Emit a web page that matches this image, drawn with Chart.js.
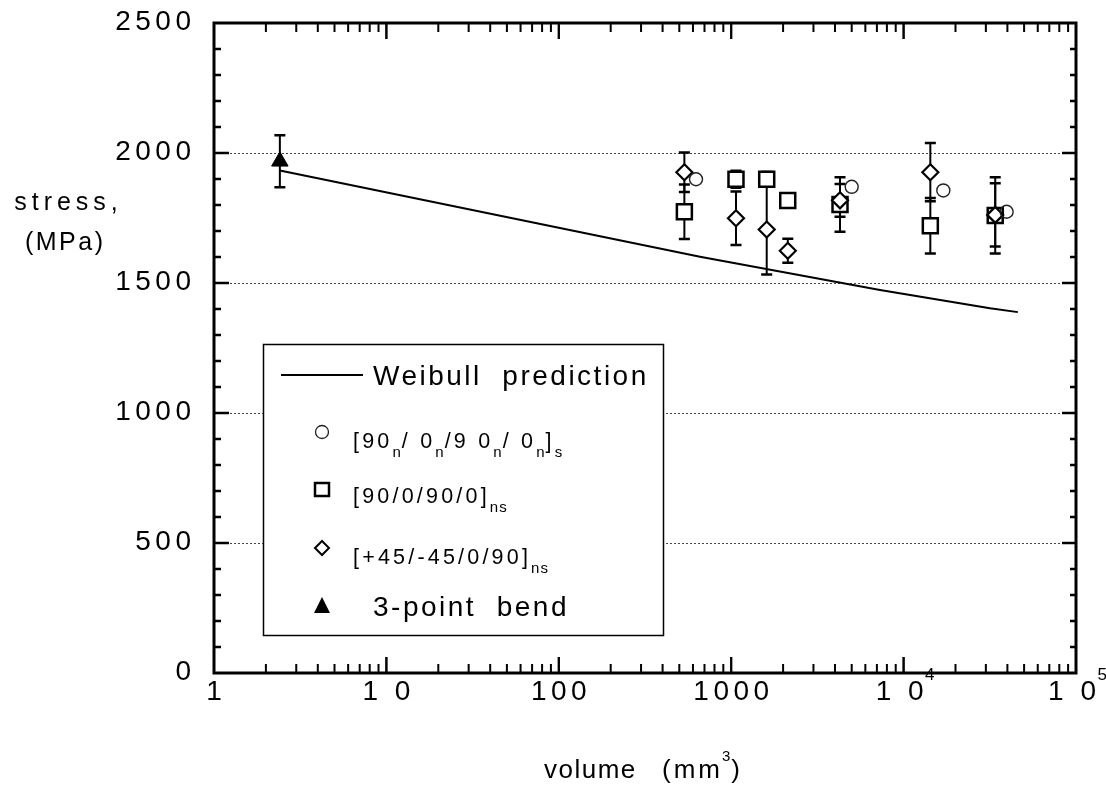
<!DOCTYPE html>
<html><head><meta charset="utf-8">
<script src="https://cdn.jsdelivr.net/npm/chart.js@4/dist/chart.umd.min.js"></script>
<style>html,body{margin:0;padding:0;background:#fff}#wrap{width:1106px;height:789px}</style>
</head><body><div id="wrap"><canvas id="c" width="1106" height="789"></canvas></div>
<script>
// ---- data ----
const circleVol = [625, 5000, 17000, 39600];
const circleStress = [1899, 1870, 1856, 1774];
const squareVol = [535, 1066, 1607, 2128, 4277, 14290, 34000];
const squareStress = [1774, 1899, 1899, 1817, 1802, 1720, 1760];
const squareErr = [105, 33, 28, 0, 105, 107, 147];
const diamondVol = [535, 1066, 1607, 2130, 4277, 14290, 34000];
const diamondStress = [1926, 1749, 1706, 1624, 1818, 1926, 1762];
const diamondErr = [76, 103, 173, 46, 63, 112, 122];
const bendVol = [2.41];
const bendStress = [1968];
const bendErr = [100];
const weibullVol = [2.41, 659, 7300, 31700, 46000];
const weibullStress = [1933, 1601, 1473, 1403, 1388];
const yTickValues = [0, 500, 1000, 1500, 2000, 2500];
const yTickLabels = ['0', '500', '1000', '1500', '2000', '2500'];
const yGridValues = [500, 1000, 1500, 2000];
const xTickValues = [1, 10, 100, 1000, 10000, 100000];
const xTickLabels = ['1', '1 0', '100', '1000', '1 0', '1 0'];
const xTickExponents = ['', '', '', '', '4', '5'];
const legendEntries = [
  {marker: 'line', parts: [['Weibull  prediction', 'big']]},
  {marker: 'circle', parts: [['[90',''],['n','sub'],['/ 0',''],['n','sub'],['/9 0',''],['n','sub'],['/ 0',''],['n','sub'],[']',''],['s','sub']]},
  {marker: 'rect', parts: [['[90/0/90/0]',''],['ns','sub']]},
  {marker: 'rectRot', parts: [['[+45/-45/0/90]',''],['ns','sub']]},
  {marker: 'triangle', parts: [['3-point  bend', 'big']]}
];
const yTitleLines = ['stress,', '(MPa)'];
const xTitleParts = ['volume', '(mm', '3', ')'];

const pts = (xs, ys) => xs.map((v, i) => ({x: v, y: ys[i]}));
const FONT = '"Liberation Sans", Arial, sans-serif';

function drawText(ctx, s, x, y, size, sp, align) {
  ctx.font = size + 'px ' + FONT;
  ctx.letterSpacing = sp + 'px';
  ctx.textAlign = 'left';
  ctx.textBaseline = 'alphabetic';
  let w = ctx.measureText(s).width - sp;
  let x0 = x;
  if (align === 'right') x0 = x - w;
  else if (align === 'center') x0 = x - w / 2;
  ctx.fillText(s, x0, y);
  return x0 + w + sp;
}

const custom = {
  id: 'custom',
  beforeDatasetsDraw(chart) {
    const ctx = chart.ctx, xs = chart.scales.x, ys = chart.scales.y, a = chart.chartArea;
    ctx.save();
    ctx.strokeStyle = '#444';
    ctx.lineWidth = 1;
    ctx.setLineDash([2, 2]);
    yGridValues.forEach(v => {
      const py = Math.round(ys.getPixelForValue(v)) + 0.5;
      ctx.beginPath(); ctx.moveTo(a.left, py); ctx.lineTo(a.right, py); ctx.stroke();
    });
    ctx.setLineDash([]);
    ctx.strokeStyle = '#000';
    const eb = (vols, vals, errs) => vols.forEach((v, i) => {
      if (!errs[i]) return;
      const px = xs.getPixelForValue(v);
      const t = ys.getPixelForValue(vals[i] + errs[i]);
      const b = ys.getPixelForValue(vals[i] - errs[i]);
      ctx.lineWidth = 2;
      ctx.beginPath(); ctx.moveTo(px, t); ctx.lineTo(px, b); ctx.stroke();
      ctx.lineWidth = 2.5;
      ctx.beginPath(); ctx.moveTo(px - 5.5, t); ctx.lineTo(px + 5.5, t);
      ctx.moveTo(px - 5.5, b); ctx.lineTo(px + 5.5, b); ctx.stroke();
    });
    eb(squareVol, squareStress, squareErr);
    eb(diamondVol, diamondStress, diamondErr);
    eb(bendVol, bendStress, bendErr);
    ctx.restore();
  },
  afterDatasetsDraw(chart) {
    const ctx = chart.ctx, xs = chart.scales.x, ys = chart.scales.y, a = chart.chartArea;
    ctx.save();
    ctx.fillStyle = '#000';
    ctx.strokeStyle = '#000';
    ctx.lineWidth = 3;
    ctx.strokeRect(a.left, a.top, a.right - a.left, a.bottom - a.top);
    ctx.lineWidth = 2.5;
    for (let v = 100; v < 2500; v += 100) {
      const py = ys.getPixelForValue(v);
      const major = v % 500 === 0;
      ctx.beginPath();
      ctx.moveTo(a.left, py); ctx.lineTo(a.left + (major ? 15 : 7), py);
      ctx.moveTo(a.right, py); ctx.lineTo(a.right - (major ? 14 : 6), py);
      ctx.stroke();
    }
    for (let k = 0; k < 5; k++) {
      for (let m = 1; m <= 10; m++) {
        if (m === 1 && k === 0) continue;
        const v = m * Math.pow(10, k);
        const px = xs.getPixelForValue(v);
        const major = (m === 1 || m === 10);
        const L = major ? 16 : 9;
        ctx.lineWidth = 2;
        ctx.beginPath();
        ctx.moveTo(px, a.top); ctx.lineTo(px, a.top + L);
        ctx.moveTo(px, a.bottom); ctx.lineTo(px, a.bottom - L);
        ctx.stroke();
      }
    }
    yTickValues.forEach((v, i) => {
      const py = ys.getPixelForValue(v);
      drawText(ctx, yTickLabels[i], 191, py + 7, 28, 4.5, 'right');
    });
    xTickValues.forEach((v, i) => {
      const px = xs.getPixelForValue(v);
      const by = 700;
      if (xTickExponents[i]) {
        const end = drawText(ctx, xTickLabels[i], px - 4, by, 28, 4.5, 'center');
        drawText(ctx, xTickExponents[i], end - 3, by - 20, 17, 0, 'left');
      } else {
        drawText(ctx, xTickLabels[i], px, by, 28, 4.5, 'center');
      }
    });
    drawText(ctx, yTitleLines[0], 66, 210, 25, 5, 'center');
    drawText(ctx, yTitleLines[1], 64, 250, 25, 2.5, 'center');
    drawText(ctx, xTitleParts[0], 544, 778, 26, 1.5, 'left');
    let xe = drawText(ctx, xTitleParts[1], 662, 778, 26, 3, 'left');
    xe = drawText(ctx, xTitleParts[2], xe - 1, 761, 15, 0, 'left');
    drawText(ctx, xTitleParts[3], xe + 1, 778, 26, 0, 'left');
    // legend box
    const L = {x: 263, y: 344, w: 400, h: 291};
    ctx.fillStyle = '#fff';
    ctx.fillRect(L.x, L.y, L.w, L.h);
    ctx.lineWidth = 1.5;
    ctx.strokeStyle = '#000';
    ctx.strokeRect(L.x + 0.5, L.y + 0.5, L.w, L.h);
    ctx.fillStyle = '#000';
    const rowY = [375, 433, 490, 548, 606];
    const baseY = [385, 448, 503, 564, 616];
    legendEntries.forEach((e, r) => {
      const my = rowY[r], mx = 322;
      ctx.lineWidth = 2;
      ctx.strokeStyle = '#000';
      if (e.marker === 'line') {
        ctx.beginPath(); ctx.moveTo(281, my); ctx.lineTo(363, my); ctx.stroke();
      } else if (e.marker === 'circle') {
        ctx.lineWidth = 1.3; ctx.strokeStyle = '#222';
        ctx.beginPath(); ctx.arc(mx, my - 1, 6.5, 0, Math.PI * 2); ctx.stroke();
      } else if (e.marker === 'rect') {
        ctx.lineWidth = 2.5;
        ctx.strokeRect(mx - 7, my - 7, 14, 13);
      } else if (e.marker === 'rectRot') {
        ctx.lineWidth = 2;
        ctx.beginPath(); ctx.moveTo(mx, my - 7); ctx.lineTo(mx + 7, my); ctx.lineTo(mx, my + 7); ctx.lineTo(mx - 7, my); ctx.closePath(); ctx.stroke();
      } else if (e.marker === 'triangle') {
        ctx.beginPath(); ctx.moveTo(mx, my - 9); ctx.lineTo(mx + 8, my + 7); ctx.lineTo(mx - 8, my + 7); ctx.closePath(); ctx.fill();
      }
      let x = (e.parts[0][1] === 'big') ? 373 : 353;
      e.parts.forEach(p => {
        if (p[1] === 'big') {
          x = drawText(ctx, p[0], x, baseY[r], 28, 2.5, 'left');
        } else if (p[1] === 'sub') {
          x = drawText(ctx, p[0], x, baseY[r] + 9, 15, 1, 'left');
        } else {
          x = drawText(ctx, p[0], x, baseY[r], 21.5, 3.2, 'left');
        }
      });
    });
    ctx.restore();
  }
};

new Chart(document.getElementById('c'), {
  type: 'scatter',
  data: {
    datasets: [
      {label: 'Weibull prediction', data: pts(weibullVol, weibullStress), showLine: true,
       borderColor: '#000', borderWidth: 2, pointRadius: 0, tension: 0, order: 5},
      {label: '[90n/0n/90n/0n]s', data: pts(circleVol, circleStress), pointStyle: 'circle',
       pointRadius: 6.5, borderColor: '#222', backgroundColor: 'rgba(255,255,255,0)', borderWidth: 1.4, order: 1},
      {label: '[90/0/90/0]ns', data: pts(squareVol, squareStress), pointStyle: 'rect',
       pointRadius: 10.6, borderColor: '#000', backgroundColor: '#fff', borderWidth: 2.5, order: 3},
      {label: '[+45/-45/0/90]ns', data: pts(diamondVol, diamondStress), pointStyle: 'rectRot',
       pointRadius: 8, borderColor: '#000', backgroundColor: '#fff', borderWidth: 2.2, order: 2},
      {label: '3-point bend', data: pts(bendVol, bendStress), pointStyle: 'triangle',
       pointRadius: 9.5, borderColor: '#000', backgroundColor: '#000', borderWidth: 1, order: 0}
    ]
  },
  options: {
    responsive: false,
    animation: false,
    events: [],
    layout: {padding: {left: 0, right: 30, top: 23, bottom: 0}},
    plugins: {legend: {display: false}, tooltip: {enabled: false}},
    scales: {
      x: {type: 'logarithmic', min: 1, max: 100000,
          grid: {display: false}, border: {display: false}, ticks: {display: false},
          afterFit(s) { s.height = 116; }},
      y: {type: 'linear', min: 0, max: 2500,
          grid: {display: false}, border: {display: false}, ticks: {display: false},
          afterFit(s) { s.width = 214; }}
    }
  },
  plugins: [custom]
});
</script>
</body></html>
